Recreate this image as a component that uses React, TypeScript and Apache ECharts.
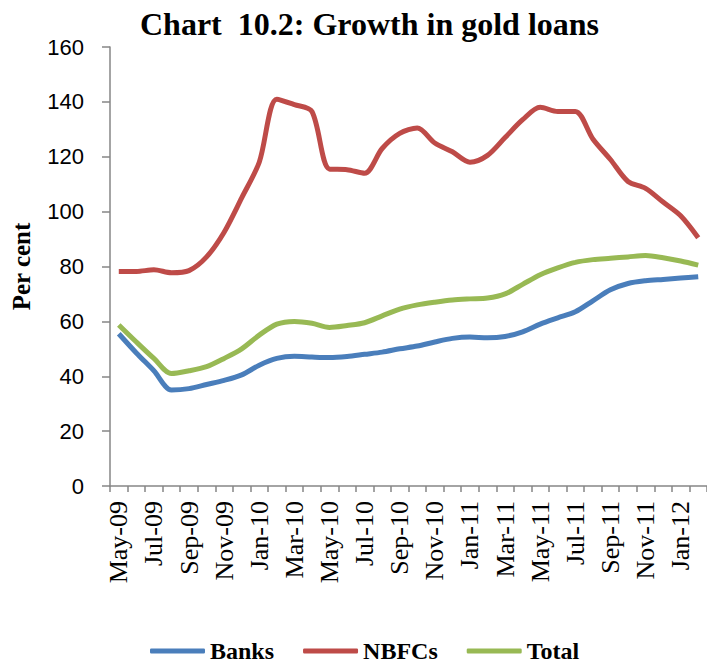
import React, { useEffect, useRef } from "react";
import * as echarts from "echarts";

const months = [
  "May-09", "Jun-09", "Jul-09", "Aug-09", "Sep-09", "Oct-09", "Nov-09", "Dec-09",
  "Jan-10", "Feb-10", "Mar-10", "Apr-10", "May-10", "Jun-10", "Jul-10", "Aug-10",
  "Sep-10", "Oct-10", "Nov-10", "Dec-10", "Jan-11", "Feb-11", "Mar-11", "Apr-11",
  "May-11", "Jun-11", "Jul-11", "Aug-11", "Sep-11", "Oct-11", "Nov-11", "Dec-11",
  "Jan-12", "Feb-12",
];

const banks = [
  55.5, 48.5, 42, 35, 35.5, 37, 38.5, 40.5, 44, 46.5, 47.3, 47, 46.8, 47.2, 48, 48.8,
  50, 51, 52.5, 53.8, 54.3, 54, 54.5, 56.2, 59, 61.3, 63.5, 67.5, 71.5, 73.8, 74.8, 75.3,
  75.8, 76.3,
];

const nbfcs = [
  78.2, 78.2, 78.8, 77.7, 78.5, 83.5, 92.5, 105, 118, 141, 139, 136.5, 115.5, 115.3, 114, 123,
  128.5, 130.5, 125, 121.8, 118, 120.5, 127, 133.5, 138, 136.5, 136.5, 126.5, 119, 111, 108.5, 103.5,
  98.5, 90.5,
];

const total = [
  58.7, 52.5, 46.5, 41, 42, 43.5, 46.5, 50, 55, 59, 60, 59.3, 57.8, 58.5, 59.5, 62,
  64.5, 66, 67, 67.8, 68.2, 68.5, 70, 73.5, 77, 79.5, 81.5, 82.5, 83, 83.5, 84, 83.2,
  82, 80.5,
];

const SERIF = "'Liberation Serif', 'Times New Roman', serif";
const SANS = "'Liberation Sans', Arial, sans-serif";

export default function App() {
  const ref = useRef<HTMLDivElement>(null);

  useEffect(() => {
    if (!ref.current) return;
    const chart = echarts.init(ref.current, undefined, { renderer: "svg" });
    const axisColor = "#868686";
    const mk = (name: string, data: number[], color: string) => ({
      name,
      type: "line",
      data,
      smooth: 0.3,
      symbol: "none",
      showSymbol: false,
      lineStyle: { color, width: 5 },
      itemStyle: { color },
    });
    chart.setOption({
      animation: false,
      backgroundColor: "#ffffff",
      title: {
        text: "Chart  10.2: Growth in gold loans",
        left: 140,
        top: 8,
        padding: 0,
        textStyle: { fontFamily: SERIF, fontWeight: "bold", fontSize: 32, color: "#000" },
      },
      legend: {
        left: 150,
        top: 639,
        padding: 0,
        itemWidth: 55,
        itemHeight: 5,
        itemGap: 29,
        icon: "roundRect",
        textStyle: { fontFamily: SERIF, fontWeight: "bold", fontSize: 24, color: "#000" },
        data: ["Banks", "NBFCs", "Total"],
      },
      grid: { left: 110, top: 47, width: 602, height: 439, containLabel: false },
      xAxis: {
        type: "category",
        data: months,
        boundaryGap: true,
        axisLine: { show: true, lineStyle: { color: axisColor, width: 1.5 } },
        axisTick: { show: true, interval: 0, length: 6, lineStyle: { color: axisColor, width: 1.5 } },
        axisLabel: {
          interval: 1,
          rotate: 90,
          margin: 15,
          fontFamily: SERIF,
          fontSize: 26,
          color: "#000",
        },
        splitLine: { show: false },
      },
      yAxis: {
        type: "value",
        min: 0,
        max: 160,
        interval: 20,
        name: "Per cent",
        nameLocation: "middle",
        nameGap: 76,
        nameRotate: 90,
        nameTextStyle: { fontFamily: SERIF, fontWeight: "bold", fontSize: 25, color: "#000" },
        axisLine: { show: true, lineStyle: { color: axisColor, width: 1.5 } },
        axisTick: { show: true, inside: false, length: 8, lineStyle: { color: axisColor, width: 1.5 } },
        axisLabel: { margin: 26, fontFamily: SANS, fontSize: 22, color: "#000" },
        splitLine: { show: false },
      },
      series: [
        mk("Banks", banks, "#4A7EBB"),
        mk("NBFCs", nbfcs, "#BE4B48"),
        mk("Total", total, "#98B954"),
      ],
    });
    return () => chart.dispose();
  }, []);

  return (
    <div
      ref={ref}
      style={{ position: "fixed", left: 0, top: 0, width: 707, height: 663, background: "#fff" }}
    />
  );
}
